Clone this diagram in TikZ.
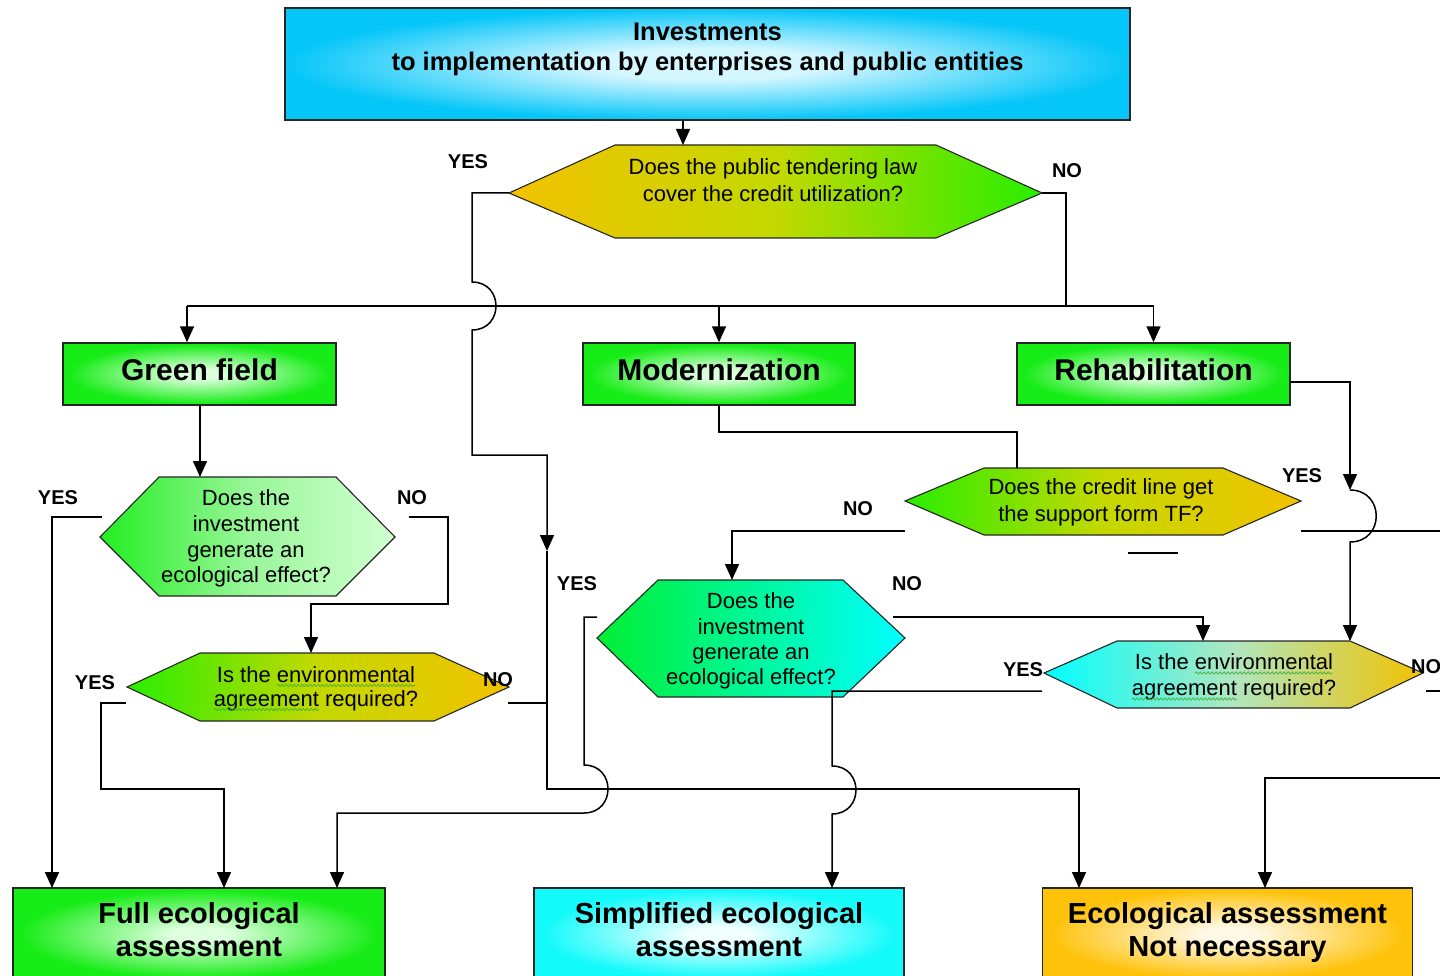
\documentclass[tikz,border=0pt]{standalone}
\usepackage{fontspec}
\setmainfont{Liberation Sans}
\usetikzlibrary{arrows.meta,decorations.pathmorphing}
\definecolor{skyout}{HTML}{05C6F8}
\definecolor{skyin}{HTML}{D4F6FF}
\definecolor{grout}{HTML}{16EC16}
\definecolor{grin}{HTML}{DDFFDD}
\definecolor{cyout}{HTML}{12FAFA}
\definecolor{cyin}{HTML}{F2FFFF}
\definecolor{orout}{HTML}{FFC20A}
\definecolor{orin}{HTML}{FFF8E4}
\definecolor{hyel}{HTML}{F2C200}
\definecolor{hgrn}{HTML}{28EE00}
\definecolor{hmid}{HTML}{C4D800}
\definecolor{hgrn2}{HTML}{22EE22}
\definecolor{hpale}{HTML}{D2FFD2}
\definecolor{hpmid}{HTML}{98F698}
\definecolor{hcyan}{HTML}{00FFFF}
\definecolor{hcg}{HTML}{00EE33}
\definecolor{hcm}{HTML}{B0E6C0}
\definecolor{wavy}{HTML}{40B040}
\definecolor{edge}{HTML}{262626}
\pgfdeclareradialshading{glowsky}{\pgfpoint{0bp}{0bp}}{color(0bp)=(skyin); color(7bp)=(skyin); color(25bp)=(skyout); color(50bp)=(skyout)}
\pgfdeclareradialshading{glowgreen}{\pgfpoint{0bp}{0bp}}{color(0bp)=(grin); color(4bp)=(grin); color(24bp)=(grout); color(50bp)=(grout)}
\pgfdeclareradialshading{glowcyan}{\pgfpoint{0bp}{0bp}}{color(0bp)=(cyin); color(4bp)=(cyin); color(24bp)=(cyout); color(50bp)=(cyout)}
\pgfdeclareradialshading{glowor}{\pgfpoint{0bp}{0bp}}{color(0bp)=(orin); color(4bp)=(orin); color(24bp)=(orout); color(50bp)=(orout)}
\tikzset{
  box/.style={draw=edge, line width=1.5pt, shade, inner sep=0pt, align=center,
    font=\fontsize{30}{33}\selectfont\bfseries},
  midbox/.style={box, minimum height=62pt, text height=22pt, text depth=10pt},
  lowbox/.style={box, minimum height=92pt, text depth=9pt, font=\fontsize{29}{33}\selectfont\bfseries},
  hexline/.style={draw=edge, line width=1.1pt},
  qtext/.style={align=center, inner sep=0pt},
  lab/.style={font=\fontsize{20}{22}\selectfont\bfseries, inner sep=0pt},
  ln/.style={line width=1.5pt, black},
  arr/.style={ln, -{Triangle[length=16pt,width=14pt]}},
  wav/.style={wavy, line width=0.7pt, decorate, decoration={snake, amplitude=1.1pt, segment length=4pt}}
}
\begin{document}
\begin{tikzpicture}[x=1pt,y=-1pt]
\useasboundingbox (0,0) rectangle (1440,976);
\clip (0,0) rectangle (1440,976);
\fill[white] (0,0) rectangle (1440,976);

% boxes
\node[box, shading=glowsky, minimum width=845pt, minimum height=112pt, text depth=35pt,
  font=\fontsize{25.5}{30}\selectfont\bfseries] (top) at (707.5,64)
  {Investments\\to implementation by enterprises and public entities};
\node[midbox, shading=glowgreen, minimum width=273pt] (gf) at (199.5,374) {Green field};
\node[midbox, shading=glowgreen, minimum width=272pt] (mod) at (719,374) {Modernization};
\node[midbox, shading=glowgreen, minimum width=273pt] (reh) at (1153.5,374) {Rehabilitation};
\node[lowbox, shading=glowgreen, minimum width=372pt] (full) at (199,934) {Full ecological\\assessment};
\node[lowbox, shading=glowcyan, minimum width=370pt] (simp) at (719,934) {Simplified ecological\\assessment};
\node[lowbox, shading=glowor, minimum width=370pt] (notn) at (1227.5,934) {Ecological assessment\\Not necessary};

% hexagons
\path[hexline, left color=hyel, right color=hgrn, middle color=hmid]
  (509,193) -- (615,145) -- (936,145) -- (1042,193) -- (936,238) -- (615,238) -- cycle;
\path[hexline, left color=hgrn2, right color=hpale, middle color=hpmid]
  (100,537) -- (159,477) -- (336,477) -- (395,537) -- (336,596) -- (159,596) -- cycle;
\path[hexline, left color=hgrn, right color=hyel, middle color=hmid]
  (127,687) -- (200,653) -- (434,653) -- (509,687) -- (434,721) -- (200,721) -- cycle;
\path[hexline, left color=hgrn, right color=hyel, middle color=hmid]
  (905,501) -- (984,468) -- (1223,468) -- (1301,501) -- (1223,535) -- (984,535) -- cycle;
\path[hexline, left color=hcg, right color=hcyan]
  (597,638) -- (658,580) -- (843,580) -- (905,638) -- (843,697) -- (658,697) -- cycle;
\path[hexline, left color=hcyan, right color=hyel, middle color=hcm]
  (1044,673) -- (1117,641) -- (1350,641) -- (1423,673) -- (1350,708) -- (1117,708) -- cycle;

% question texts
\node[qtext, font=\fontsize{22}{27}\selectfont] (q1) at (773,180)
  {Does the public tendering law\\cover the credit utilization?};
\node[qtext, font=\fontsize{22}{25.7}\selectfont] (q2) at (246,538.5)
  {Does the\\investment\\generate an\\ecological effect?};
\node[qtext, font=\fontsize{22}{23.5}\selectfont] (q3) at (316,689)
  {Is the environmental\\agreement required?};
\node[qtext, font=\fontsize{22}{27}\selectfont] (q4) at (1101,502.5)
  {Does the credit line get\\the support form TF?};
\node[qtext, font=\fontsize{22}{25.3}\selectfont] (q5) at (751,641)
  {Does the\\investment\\generate an\\ecological effect?};
\node[qtext, font=\fontsize{22}{26}\selectfont] (q6) at (1234,677)
  {Is the environmental\\agreement required?};

% spelling marks
\draw[wav] (277,685.5) -- (415,685.5);
\draw[wav] (214,709.5) -- (319,709.5);
\draw[wav] (1195,673) -- (1333,673);
\draw[wav] (1132,699) -- (1237,699);

% labels
\node[lab] (l1) at (468,162) {YES};
\node[lab] (l2) at (1067,171) {NO};
\node[lab] (l3) at (58,498) {YES};
\node[lab] (l4) at (412,498) {NO};
\node[lab] (l5) at (95,683) {YES};
\node[lab] (l6) at (498,680) {NO};
\node[lab] (l7) at (577,584) {YES};
\node[lab] (l8) at (907,584) {NO};
\node[lab] (l9) at (858,509) {NO};
\node[lab] (l10) at (1302,476) {YES};
\node[lab] (l11) at (1023,670) {YES};
\node[lab, anchor=west] (l12) at (1411,667) {NO};

% coordinates
\coordinate (h1n) at (683,145);
\coordinate (h1w) at (509,193);
\coordinate (h1e) at (1042,193);
\coordinate (j1) at (472,193);
\coordinate (j1a) at (472,282);
\coordinate (j1b) at (472,330);
\coordinate (j2) at (472,455);
\coordinate (j3) at (547,455);
\coordinate (j4) at (547,551);
\coordinate (j5) at (547,789);
\coordinate (na1) at (1079,888);
\coordinate (h3e) at (508,703);
\coordinate (j6) at (547,703);
\coordinate (b1) at (187,306);
\coordinate (b2) at (1066,306);
\coordinate (b3) at (1153.5,306);
\coordinate (h2n) at (200,477);
\coordinate (y2) at (102,517);
\coordinate (fa1) at (52,888);
\coordinate (n2) at (409,517);
\coordinate (n2a) at (448,604);
\coordinate (h3n) at (311,653);
\coordinate (y3) at (126,703);
\coordinate (y3a) at (101,789);
\coordinate (fa2) at (224,888);
\coordinate (y5) at (597,617);
\coordinate (k1) at (584,765);
\coordinate (k2) at (584,813);
\coordinate (fa3) at (337,888);
\coordinate (n5) at (893,617);
\coordinate (h6n) at (1203,641);
\coordinate (y6) at (1042,691);
\coordinate (m1) at (832,766);
\coordinate (m2) at (832,814);
\coordinate (sa) at (832,888);
\coordinate (n6e) at (1426,691);
\coordinate (out1) at (1450,691);
\coordinate (out2) at (1450,778);
\coordinate (na2) at (1265,888);
\coordinate (h4n) at (1017,468);
\coordinate (n4) at (905,531);
\coordinate (h5n) at (732,580);
\coordinate (y4) at (1301,531);
\coordinate (out3) at (1450,531);
\coordinate (re) at (1290,382);
\coordinate (r1) at (1350,490);
\coordinate (r2) at (1350,542);
\coordinate (h6n2) at (1350,641);
\coordinate (s1) at (1128,553);
\coordinate (s2) at (1178,553);

% connectors
\draw[arr] (top.south -| h1n) -- (h1n);
\draw[ln] (h1e) -- (h1e -| b2) -- (b2);
\draw[ln] (b1) -- (b3);
\draw[arr] (b1) -- (b1 |- gf.north);
\draw[arr] (mod.north |- b1) -- (mod.north);
\draw[arr] (b3) -- (reh.north);
\draw[arr] (h1w) -- (j1) -- (j1a) .. controls +(32,0) and +(32,0) .. (j1b) -- (j2) -- (j3) -- (j4);
\draw[arr] (j4) -- (j5) -- (j5 -| na1) -- (na1);
\draw[ln] (h3e) -- (j6);
\draw[arr] (gf.south -| h2n) -- (h2n);
\draw[arr] (y2) -- (y2 -| fa1) -- (fa1);
\draw[arr] (n2) -- (n2 -| n2a) -- (n2a) -- (n2a -| h3n) -- (h3n);
\draw[arr] (y3) -- (y3 -| y3a) -- (y3a) -- (y3a -| fa2) -- (fa2);
\draw[arr] (y5) -- (y5 -| k1) -- (k1) .. controls +(32,0) and +(32,0) .. (k2) -- (k2 -| fa3) -- (fa3);
\draw[arr] (n5) -- (n5 -| h6n) -- (h6n);
\draw[arr] (y6) -- (y6 -| m1) -- (m1) .. controls +(32,0) and +(32,0) .. (m2) -- (sa);
\draw[ln] (n6e) -- (out1);
\draw[arr] (out2) -- (out2 -| na2) -- (na2);
\draw[ln] (mod.south) -- ++(0,26) -| (h4n);
\draw[arr] (n4) -- (n4 -| h5n) -- (h5n);
\draw[ln] (y4) -- (out3);
\draw[arr] (re) -- (re -| r1) -- (r1);
\draw[arr] (r1) .. controls +(35,0) and +(35,0) .. (r2) -- (h6n2);
\draw[ln] (s1) -- (s2);
\end{tikzpicture}
\end{document}
